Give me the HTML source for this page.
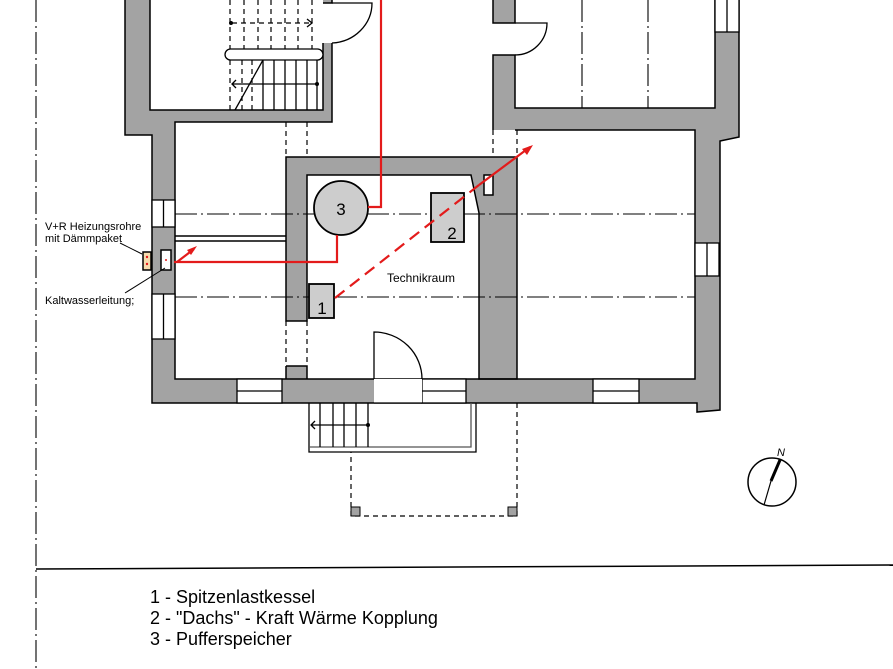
<!DOCTYPE html>
<html><head><meta charset="utf-8"><style>
html,body{margin:0;padding:0;background:#fff;}
svg{display:block;}
text{font-family:"Liberation Sans",sans-serif;}
</style></head><body>
<svg width="893" height="669" viewBox="0 0 893 669" xmlns="http://www.w3.org/2000/svg">
<g fill="#a3a3a3" stroke="none">
<rect x="125" y="0" width="25" height="135"/>
<rect x="150" y="110" width="182" height="12"/>
<rect x="125" y="122" width="50" height="13"/>
<rect x="152" y="135" width="23" height="65"/>
<rect x="152" y="227" width="23" height="67"/>
<rect x="152" y="339" width="23" height="64"/>
<rect x="175" y="379" width="62" height="24"/>
<rect x="282" y="379" width="92" height="24"/>
<rect x="466" y="379" width="127" height="24"/>
<rect x="639" y="379" width="58" height="24"/>
<polygon points="695,276 720,276 720,410 697,412 697,403 695,403"/>
<rect x="695" y="108" width="25" height="135"/>
<polygon points="715,32 739,32 739,137 719,141 695,141 695,108 715,108"/>
<rect x="493" y="108" width="222" height="22"/>
<rect x="493" y="55" width="22" height="53"/>
<rect x="493" y="0" width="22" height="23"/>
<rect x="323" y="43" width="9" height="79"/>
<rect x="323" y="0" width="9" height="3"/>
<rect x="286" y="366" width="21" height="13"/>
</g>
<polygon points="286,157 517,157 517,379 479,379 479,213 471,175 307,175 307,321 286,321" fill="#a3a3a3" stroke="#000" stroke-width="1.5"/>
<g fill="none" stroke="#000" stroke-width="1.5">
<path d="M125,0 V135 H152 V403 H697 V412 L720,410 V141 L739,137 V0"/>
<path d="M150,0 V110 H323 V43 M323,3 H332 V0"/>
<path d="M332,43 V122 H175 V379 H695 V130 H515"/>
<path d="M493,130 V55 H515 V108 H715 V0 M493,0 V23 H515 V0"/>
<path d="M286,366 H307 V379 M286,366 V379"/>
<path d="M175,236 H286 M175,241 H286"/>
</g>
<g fill="#fff" stroke="#000" stroke-width="1.3">
<rect x="152" y="200" width="23" height="27"/><line x1="163.5" y1="200" x2="163.5" y2="227"/>
<rect x="152" y="294" width="23" height="45"/><line x1="163.5" y1="294" x2="163.5" y2="339"/>
<rect x="237" y="379" width="45" height="24"/><line x1="237" y1="391" x2="282" y2="391"/>
<rect x="422" y="379" width="44" height="24"/><line x1="422" y1="391" x2="466" y2="391"/>
<rect x="593" y="379" width="46" height="24"/><line x1="593" y1="391" x2="639" y2="391"/>
<rect x="695" y="243" width="24" height="33"/><line x1="707" y1="243" x2="707" y2="276"/>
<rect x="715" y="-2" width="24" height="34"/><line x1="727" y1="0" x2="727" y2="32"/>
<rect x="374" y="379" width="48" height="24" stroke="none"/>
<line x1="374" y1="403" x2="422" y2="403"/>
</g>
<g fill="none" stroke="#000" stroke-width="1.3">
<path d="M332,3 H372 A42 40 0 0 1 332,43"/>
<path d="M515,23 H547 A32 32 0 0 1 515,55"/>
<path d="M374,379 V332 A48 47 0 0 1 422,379"/>
</g>
<g fill="none" stroke="#000" stroke-width="1.2" stroke-dasharray="5,4">
<path d="M286,122 V157 M307,122 V157 M493,130 V157 M517,130 V157"/>
<path d="M286,321 V366 M307,321 V366"/>
<path d="M517,403 V516 H351 V452"/>
<path d="M230,0 V50 M244,0 V50 M258,0 V50 M271,0 V50 M285,0 V50 M298,0 V50 M312,0 V50"/>
<path d="M230,60 V110 M242,60 V110 M252,60 V110"/>
<path d="M232,23 H312"/>
</g>
<g fill="none" stroke="#000" stroke-width="1.1" stroke-dasharray="22,4,2,4">
<path d="M175,214 H695 M175,297 H695 M582,0 V108 M648,0 V108"/>
<path d="M36,0 V669"/>
</g>
<g fill="#a3a3a3" stroke="#000" stroke-width="1"><path d="M351,507 H360 V516 H351 Z"/><path d="M508,507 H517 V516 H508 Z"/></g>
<g fill="none" stroke="#000" stroke-width="1.3">
<rect x="225" y="49" width="98" height="11" rx="5.5" fill="#fff"/>
<path d="M263,60 V110 M274,60 V110 M285,60 V110 M296,60 V110 M307,60 V110 M317,60 V110"/>
<path d="M235,110 L263,60"/>
<path d="M232,84 H317 M236,80 L232,84 L236,88"/>
<path d="M307,19 L312,23 L307,27"/>
</g>
<circle cx="317" cy="84" r="2" fill="#000"/><circle cx="231" cy="23" r="2" fill="#000"/>
<g fill="none" stroke="#000" stroke-width="1.3">
<path d="M309,403 V452 H476 V403"/>
<path d="M309,447 H471 V403" stroke="#555"/>
<path d="M320,403 V447 M333,403 V447 M344,403 V447 M356,403 V447 M368,403 V447"/>
<path d="M311,425 H368 M315,421 L311,425 L315,429"/>
</g>
<circle cx="368" cy="425" r="2" fill="#000"/>
<circle cx="341" cy="208" r="27" fill="#cdcdcd" stroke="#000" stroke-width="1.8"/>
<text x="341" y="215" font-size="17" text-anchor="middle">3</text>
<rect x="431" y="193" width="33" height="49" fill="#cdcdcd" stroke="#000" stroke-width="1.8"/>
<text x="452" y="239" font-size="17" text-anchor="middle">2</text>
<rect x="309" y="284" width="25" height="34" fill="#cdcdcd" stroke="#000" stroke-width="1.8"/>
<text x="322" y="314" font-size="17" text-anchor="middle">1</text>
<rect x="484" y="175" width="9" height="20" fill="#fff" stroke="#000" stroke-width="1.5"/>
<text x="387" y="282" font-size="12">Technikraum</text>
<g fill="none" stroke="#e31b1b" stroke-width="2.2">
<path d="M381,0 V207 H368"/>
<path d="M337,235 V262 H174"/>
<path d="M177,262 L194,249"/>
<path d="M335,298 L479,185" stroke-dasharray="12,7"/>
<path d="M479,185 L530,147"/>
</g>
<polygon points="197,246 187,250 191,255" fill="#e31b1b"/>
<polygon points="533,145 522,149 527,155" fill="#e31b1b"/>
<rect x="143" y="252" width="8" height="18" fill="#f6dcae" stroke="#000" stroke-width="1.5"/>
<circle cx="147" cy="257" r="1.2" fill="#e31b1b"/><circle cx="147" cy="264" r="1.2" fill="#e31b1b"/>
<rect x="161" y="250" width="10" height="20" fill="#fff" stroke="#000" stroke-width="1.5"/>
<circle cx="166" cy="260" r="1" fill="#e31b1b"/>
<g stroke="#000" stroke-width="1"><line x1="120" y1="243" x2="142" y2="254"/><line x1="125" y1="293" x2="165" y2="268"/></g>
<text x="45" y="230" font-size="11">V+R Heizungsrohre</text>
<text x="45" y="242" font-size="11">mit Dämmpaket</text>
<text x="45" y="304" font-size="11">Kaltwasserleitung;</text>
<circle cx="772" cy="482" r="24" fill="none" stroke="#000" stroke-width="1.5"/>
<line x1="780" y1="460" x2="771" y2="481" stroke="#000" stroke-width="3"/>
<line x1="771" y1="481" x2="764" y2="505" stroke="#000" stroke-width="1.2"/>
<text x="777" y="456" font-size="11" font-style="italic">N</text>
<line x1="36" y1="569" x2="893" y2="565" stroke="#000" stroke-width="1.5"/>
<g font-size="18">
<text x="150" y="603">1 - Spitzenlastkessel</text>
<text x="150" y="624">2 - "Dachs" - Kraft Wärme Kopplung</text>
<text x="150" y="645">3 - Pufferspeicher</text>
</g>
</svg>
</body></html>
